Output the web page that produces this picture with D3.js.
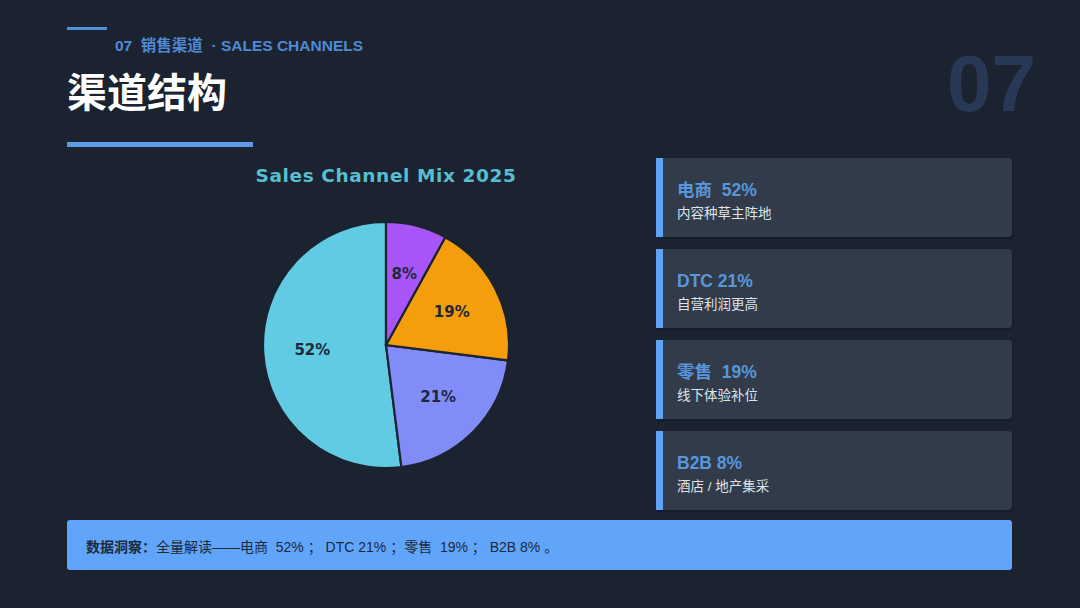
<!DOCTYPE html>
<html>
<head>
<meta charset="utf-8">
<script src="https://cdn.jsdelivr.net/npm/d3@7"></script>
<style>
  html, body { margin: 0; padding: 0; background: #1b2330; }
  svg { display: block; }
  text { font-family: "Liberation Sans", "Noto Sans CJK SC", sans-serif; white-space: pre; }
  .mpl { font-family: "DejaVu Sans", sans-serif; font-weight: bold; }
</style>
</head>
<body>
<div class="slide"></div>
<script>
// data
var channels = ['电商', 'DTC', '零售', 'B2B']
var shares = [52, 21, 19, 8]
var notes = ['内容种草主阵地', '自营利润更高', '线下体验补位', '酒店 / 地产集采']
var sliceColors = ['#60cbe2', '#818cf8', '#f59e0b', '#a855f7']
var insight = '全量解读——电商  52% ； DTC 21% ；零售  19% ； B2B 8% 。'

var W = 1080, H = 608
var svg = d3.select('.slide').append('svg').attr('width', W).attr('height', H)

svg.append('rect').attr('width', W).attr('height', H).attr('fill', '#1b2330')

// header
svg.append('rect').attr('x', 67).attr('y', 27).attr('width', 40).attr('height', 3).attr('fill', '#4f8fe0')
svg.append('text').attr('x', 115).attr('y', 51)
  .attr('fill', '#4f8ad6').attr('font-size', 15.5).attr('font-weight', 'bold')
  .text('07  销售渠道  · SALES CHANNELS')
svg.append('text').attr('x', 67).attr('y', 107)
  .attr('fill', '#ffffff').attr('font-size', 40).attr('font-weight', 'bold')
  .text('渠道结构')
svg.append('rect').attr('x', 67).attr('y', 142).attr('width', 186).attr('height', 5).attr('fill', '#5b9bea')
svg.append('text').attr('x', 1036).attr('y', 111).attr('text-anchor', 'end')
  .attr('fill', '#273955').attr('font-size', 80).attr('font-weight', 'bold')
  .text('07')

// pie
var cx = 386, cy = 345, r = 123
var g = svg.append('g').attr('transform', `translate(${cx},${cy})`)

svg.append('text').attr('class', 'mpl').attr('x', cx).attr('y', 182)
  .attr('text-anchor', 'middle').attr('fill', '#57bfd0').attr('font-size', 18.5)
  .attr('letter-spacing', 0.6)
  .text('Sales Channel Mix 2025')

var pie = d3.pie().sort(null).startAngle(0).endAngle(-2 * Math.PI)
var arcs = pie(shares)
var arc = d3.arc().innerRadius(0).outerRadius(r)
var labelArc = d3.arc().innerRadius(r * 0.6).outerRadius(r * 0.6)

g.selectAll('path.slice').data(arcs).join('path')
  .attr('d', arc)
  .attr('fill', (d, i) => sliceColors[i])
  .attr('stroke', '#1b2330').attr('stroke-width', 2.2)

g.selectAll('text.pct').data(arcs).join('text')
  .attr('class', 'mpl')
  .attr('transform', d => `translate(${labelArc.centroid(d)})`)
  .attr('text-anchor', 'middle').attr('dy', '0.35em')
  .attr('font-size', 15).attr('fill', '#1e293b')
  .text(d => d.data + '%')

// cards
var cardY = d3.scaleBand().domain(channels).range([158, 510]).paddingInner(12 / 91)
var cards = svg.selectAll('g.card').data(channels).join('g')
  .attr('transform', d => `translate(656,${cardY(d)})`)

cards.append('rect').attr('x', 1).attr('y', 2).attr('width', 356).attr('height', cardY.bandwidth())
  .attr('rx', 4).attr('fill', '#121923').attr('opacity', 0.6)
cards.append('rect').attr('width', 356).attr('height', cardY.bandwidth())
  .attr('rx', 4).attr('fill', '#313b49')
cards.append('rect').attr('width', 7).attr('height', cardY.bandwidth()).attr('fill', '#5ea3f5')
cards.append('text').attr('x', 21).attr('y', 38)
  .attr('fill', '#5a96dc').attr('font-size', 17.5).attr('font-weight', 'bold')
  .text((d, i) => d + (/^[A-Z]/.test(d) ? ' ' : '  ') + shares[i] + '%')
cards.append('text').attr('x', 21).attr('y', 60)
  .attr('fill', '#dde3ea').attr('font-size', 13.5)
  .text((d, i) => notes[i])

// insight banner
svg.append('rect').attr('x', 67).attr('y', 520).attr('width', 945).attr('height', 50)
  .attr('rx', 3).attr('fill', '#60a5fa')
var banner = svg.append('text').attr('x', 86).attr('y', 552)
  .attr('fill', '#1e293b').attr('font-size', 14)
banner.append('tspan').attr('font-weight', 'bold').text('数据洞察：')
banner.append('tspan').text(insight)
</script>
</body>
</html>
